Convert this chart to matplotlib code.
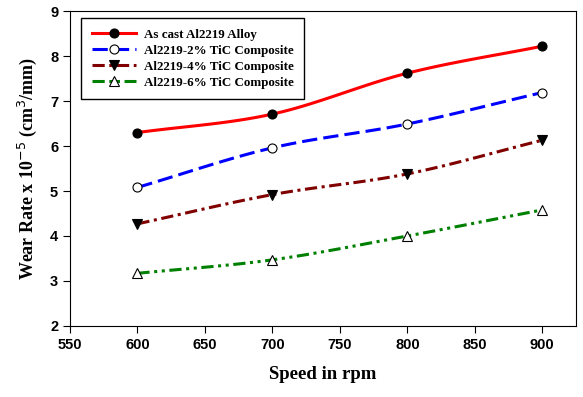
import numpy as np
import matplotlib
matplotlib.use('Agg')
import matplotlib.pyplot as plt

speed = [600, 700, 800, 900]
as_cast = [6.3, 6.71, 7.62, 8.22]
tic_2 = [5.08, 5.96, 6.49, 7.19]
tic_4 = [4.27, 4.92, 5.38, 6.13]
tic_6 = [3.17, 3.47, 4.0, 4.58]
labels = ['As cast Al2219 Alloy', 'Al2219-2% TiC Composite',
          'Al2219-4% TiC Composite', 'Al2219-6% TiC Composite']


def smooth(x, y, n=30):
    # catmull-rom curve through the points, like the original plotting package
    x = np.asarray(x, float)
    y = np.asarray(y, float)
    px = np.concatenate([[2 * x[0] - x[1]], x, [2 * x[-1] - x[-2]]])
    py = np.concatenate([[2 * y[0] - y[1]], y, [2 * y[-1] - y[-2]]])
    xs, ys = [], []
    t = np.linspace(0, 1, n)
    for i in range(1, len(px) - 2):
        for p, out in ((px, xs), (py, ys)):
            p0, p1, p2, p3 = p[i - 1], p[i], p[i + 1], p[i + 2]
            out.append(0.5 * (2 * p1 + (-p0 + p2) * t
                              + (2 * p0 - 5 * p1 + 4 * p2 - p3) * t ** 2
                              + (-p0 + 3 * p1 - 3 * p2 + p3) * t ** 3))
    return np.concatenate(xs), np.concatenate(ys)


fig = plt.figure(figsize=(5.83, 3.97), dpi=100)
ax = fig.add_axes([0.120, 0.179, 0.868, 0.793])

series = [
    (as_cast, 'red', '-', 'o', 'black'),
    (tic_2, 'blue', (0, (5, 2)), 'o', 'white'),
    (tic_4, '#800000', (0, (4, 1.5, 1, 1.5)), 'v', 'black'),
    (tic_6, 'green', (0, (4, 1.5, 1, 1.5, 1, 1.5)), '^', 'white'),
]

for (vals, col, ls, mk, mfc), lab in zip(series, labels):
    sx, sy = smooth(speed, vals)
    ax.plot(sx, sy, color=col, ls=ls, lw=2.2, zorder=2)
    ax.plot(speed, vals, ls='none', marker=mk, ms=6.5, mfc=mfc, mec='black',
            mew=0.8, zorder=3)
    ax.plot([], [], color=col, ls=ls, lw=2.2, marker=mk, ms=6.5, mfc=mfc,
            mec='black', mew=0.8, label=lab)

ax.set_xlim(550, 925)
ax.set_ylim(2, 9)
ax.set_xticks(np.arange(550, 901, 50))
ax.set_yticks(np.arange(2, 10, 1))
ax.tick_params(direction='out', length=5, top=False, right=False)
for t in ax.get_xticklabels() + ax.get_yticklabels():
    t.set_family('Liberation Sans')
    t.set_weight('bold')
    t.set_fontsize(10.5)

ax.set_xlabel('Speed in rpm', family='Liberation Serif', weight='bold',
              fontsize=13.5, labelpad=10)
ax.set_ylabel('Wear Rate x 10$^{-5}$ (cm$^3$/mm)', family='Liberation Serif',
              weight='bold', fontsize=13, labelpad=8)

leg = ax.legend(loc='upper left', bbox_to_anchor=(0.022, 0.978),
                borderaxespad=0,
                prop={'family': 'Liberation Serif', 'weight': 'bold', 'size': 9.4},
                fancybox=False, edgecolor='black', framealpha=1,
                handlelength=3.4, handletextpad=0.6, borderpad=0.8,
                labelspacing=0.3)
leg.get_frame().set_linewidth(1.0)

fig.savefig('out.png', dpi=100)
